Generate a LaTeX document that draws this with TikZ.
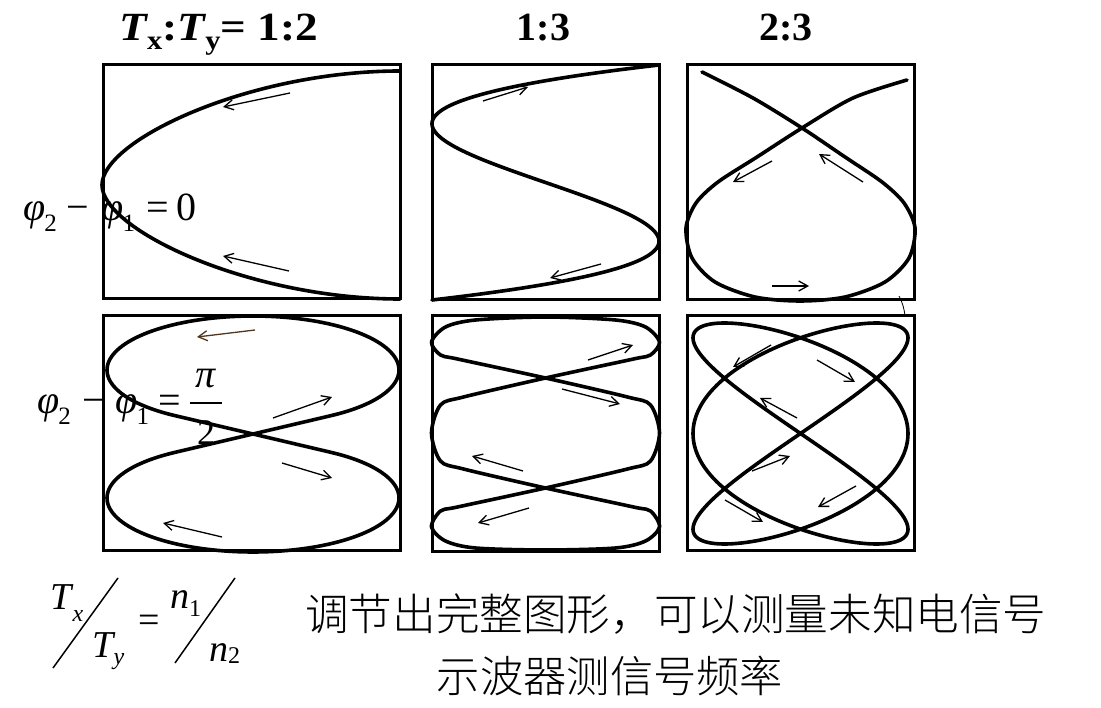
\documentclass[tikz,border=0pt]{standalone}
\usepackage{fontspec}
\setmainfont{Liberation Serif}
\newfontfamily\cjk{Noto Sans CJK SC}[UprightFont=* Light]
\usetikzlibrary{arrows.meta}
\definecolor{brownarrow}{RGB}{80,55,30}
\tikzset{
  frame/.style={line width=3pt},
  curve/.style={line width=3.6pt, line join=round, line cap=round},
  dirarrow/.style={line width=1.3pt, -{Straight Barb[length=9pt,width=10pt]}},
  lbl/.style={inner sep=0pt, font=\fontsize{40}{40}\selectfont},
  fml/.style={inner sep=0pt, font=\fontsize{38}{38}\selectfont},
  ttl/.style={inner sep=0pt, font=\fontsize{40}{40}\selectfont\bfseries},
}
\newcommand\phis[1]{\textit{φ}\kern-1pt\raisebox{-11pt}{\fontsize{25}{25}\selectfont #1}}
\newcommand\lowsub[2]{\raisebox{-#1}{\fontsize{24}{24}\selectfont #2}}
\begin{document}
\begin{tikzpicture}[x=1pt,y=-1pt]
\useasboundingbox (0,0) rectangle (1101,708);
% titles
\node[ttl, anchor=base west] (t12) at (119,41) {\scalebox{1.13}[1]{\textit{T}\kern-1pt\raisebox{-9pt}{\fontsize{27}{27}\selectfont x}:\textit{T}\kern-1pt\raisebox{-9pt}{\fontsize{27}{27}\selectfont y}= 1:2}};
\node[ttl, anchor=base] (t13) at (543.5,41) {1:3};
\node[ttl, anchor=base] (t23) at (786,41) {2:3};
% frames
\draw[frame] (103,65) rectangle (400,299);
\draw[frame] (432,65) rectangle (659,300);
\draw[frame] (687,65) rectangle (914,300);
\draw[frame] (103,316) rectangle (400,550);
\draw[frame] (432,316) rectangle (659,551);
\draw[frame] (687,316) rectangle (914,550);
% A: 1:2, phase 0
\draw[curve] (400,71) .. controls (250,71) and (102,140) .. (102,185)
  .. controls (102,230) and (250,299) .. (400,299);
\draw[dirarrow] (290,93) -- (223,107);
\draw[dirarrow] (289,271) -- (223,256);
% B: 1:3, phase 0
\draw[curve] plot[domain=-1:1, samples=160, variable=\u]
  ({545.5+113.5*(4*\u*\u*\u-3*\u)}, {182.5-117.5*\u});
\draw[dirarrow] (483,101) -- (528,87);
\draw[dirarrow] (601,264) -- (550,278);
% C: 2:3, phase 0
\draw[curve] plot[smooth] coordinates {(702,72) (753,98) (802,128) (845,157) (882,182)
  (904,203) (915,228) (909,258) (885,282) (845,297) (800,301) (755,297) (715,282)
  (692,258) (686,228) (696,203) (718,182) (757,157) (802,128) (853,98) (907,80)};
\draw[dirarrow] (772,161) -- (733,182);
\draw[dirarrow] (863,182) -- (819,154);
\draw[dirarrow] (772,286) -- (809,286);
\draw[line width=0.8pt] (899,296) to[bend left=10] (905,316);
% D: 1:2, phase pi/2 -- two ellipses joined by tangent lines through the crossing
\coordinate (dx) at (253,434);
\draw[curve] (dx) -- plot[domain=-57.52:237.52, samples=120, variable=\t]
  ({253+146*cos(\t)}, {370-54*sin(\t)}) -- (dx)
  -- plot[domain=57.52:-237.52, samples=120, variable=\t]
  ({253+146*cos(\t)}, {498-54*sin(\t)}) -- cycle;
\draw[dirarrow, brownarrow] (255,330) -- (197,337);
\draw[dirarrow] (273,418) -- (332,397);
\draw[dirarrow] (282,463) -- (332,478);
\draw[dirarrow] (222,537) -- (163,523);
% E: 1:3, phase pi/2
\draw[curve, shift={(545.5,433)}] plot[smooth cycle] coordinates {(0,-116) (70,-113)
  (100,-106) (114,-91) (105,-78) (88,-74) (0,-55) (-82,-36) (-105,-28) (-114,0)
  (-105,28) (-82,36) (0,55) (88,74) (105,78) (114,94) (100,108) (70,115) (0,117)
  (-70,115) (-100,108) (-114,94) (-105,78) (-88,74) (0,55) (82,36) (105,28) (114,0)
  (105,-28) (82,-36) (0,-55) (-88,-74) (-105,-78) (-114,-91) (-100,-106) (-70,-113)};
\draw[dirarrow] (588,360) -- (633,345);
\draw[dirarrow] (562,389) -- (620,404);
\draw[dirarrow] (523,471) -- (472,456);
\draw[dirarrow] (529,508) -- (478,523);
% F: 2:3, phase pi/2
\draw[curve] plot[domain=0:360, samples=361, variable=\t]
  ({800.5+107.5*cos(3*\t)}, {433.5-110.5*sin(2*\t)}) -- cycle;
\draw[dirarrow] (771,345) -- (733,367);
\draw[dirarrow] (817,360) -- (855,382);
\draw[dirarrow] (797,418) -- (760,398);
\draw[dirarrow] (752,471) -- (790,456);
\draw[dirarrow] (856,486) -- (818,507);
\draw[dirarrow] (725,500) -- (763,522);
% phase labels
\node[lbl, anchor=base west] (ph0) at (23,221)
  {\phis{2}\hspace{10pt}−\hspace{12pt}\phis{1}\hspace{11pt}=\hspace{8pt}0};
\node[lbl, anchor=base west] (ph2) at (37,414)
  {\phis{2}\hspace{12pt}−\hspace{10pt}\phis{1}\hspace{9pt}=};
\node[lbl, anchor=base] (pinum) at (206,388) {\textit{π}};
\node[lbl, anchor=base, font=\fontsize{36}{36}\selectfont] (piden) at (206,445) {2};
\draw[line width=1.5pt] (190,403) -- (222,403);
% ratio formula
\node[fml, anchor=base west] (tx) at (50,609) {\textit{T}\kern-1pt\lowsub{12pt}{\textit{x}}};
\node[fml, anchor=base west] (ty) at (92,657) {\textit{T}\kern-2pt\lowsub{7pt}{\textit{y}}};
\node[fml, anchor=center] (eq) at (149,624) {=};
\node[fml, anchor=base west] (n1) at (170,608) {\textit{n}\lowsub{8pt}{1}};
\node[fml, anchor=base west] (n2) at (209,661) {\textit{n}\lowsub{2pt}{2}};
\draw[line width=1.5pt] (118,578) -- (53,668);
\draw[line width=1.5pt] (235,578) -- (175,663);
% Chinese text
\node[inner sep=0pt, anchor=west, font=\cjk\fontsize{43.6}{44}\selectfont] (zh1) at (305,614) {调节出完整图形，可以测量未知电信号};
\node[inner sep=0pt, anchor=center, font=\cjk\fontsize{43.3}{44}\selectfont] (zh2) at (610,676) {示波器测信号频率};
\end{tikzpicture}
\end{document}
